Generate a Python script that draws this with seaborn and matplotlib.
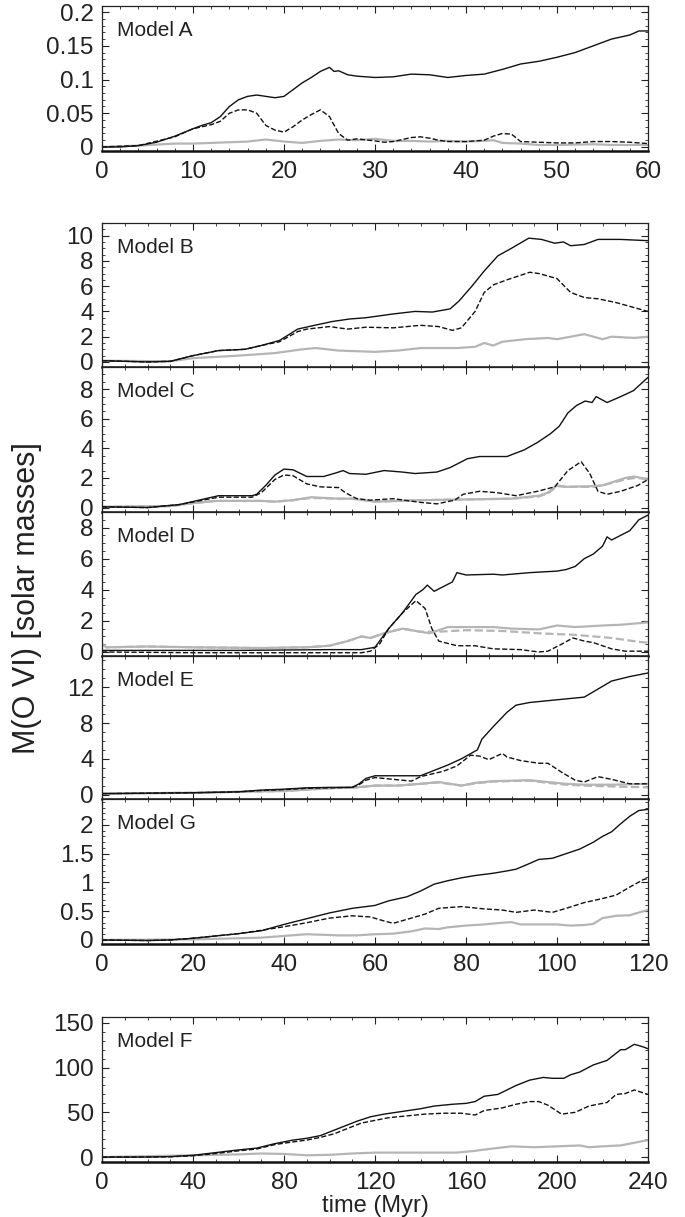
import numpy as np
import pandas as pd
import matplotlib
matplotlib.use("Agg")
import matplotlib.pyplot as plt
from matplotlib.ticker import MultipleLocator
import seaborn as sns

sns.set_style("ticks")
plt.rcParams['font.family'] = ['Liberation Sans', 'DejaVu Sans']

# ---------------- Model A (0-60 Myr) ----------------
tA_solid = [0, 2, 4, 6, 8, 10, 11, 12, 13, 14, 15, 16, 17, 18, 19, 20, 21, 22, 23, 24, 25, 25.5, 26, 27, 28, 30, 32, 34, 36, 38, 40, 42, 44, 46, 48, 50, 52, 54, 56, 58, 59, 60]
A_solid = [0, 0, 0.002, 0.007, 0.016, 0.027, 0.032, 0.036, 0.045, 0.06, 0.07, 0.075, 0.077, 0.075, 0.073, 0.075, 0.085, 0.095, 0.103, 0.112, 0.118, 0.112, 0.113, 0.107, 0.105, 0.103, 0.104, 0.108, 0.107, 0.103, 0.106, 0.108, 0.115, 0.123, 0.127, 0.133, 0.14, 0.15, 0.16, 0.166, 0.172, 0.172]
tA_dash = [0, 4, 8, 10, 12, 13, 14, 15, 16, 17, 18, 19, 20, 21, 22, 23, 24, 25, 26, 27, 28, 30, 31, 32, 34, 35, 36, 37, 38, 40, 42, 43, 44, 45, 46, 48, 50, 52, 54, 56, 58, 60]
A_dash = [0, 0.002, 0.015, 0.027, 0.033, 0.038, 0.05, 0.055, 0.055, 0.05, 0.032, 0.025, 0.022, 0.03, 0.04, 0.048, 0.055, 0.045, 0.02, 0.01, 0.012, 0.009, 0.007, 0.008, 0.014, 0.015, 0.013, 0.01, 0.008, 0.008, 0.01, 0.016, 0.02, 0.019, 0.008, 0.007, 0.006, 0.006, 0.008, 0.008, 0.007, 0.005]
tA_gray = [0, 4, 8, 10, 14, 16, 18, 20, 22, 24, 26, 28, 30, 32, 34, 36, 38, 40, 42, 43, 44, 46, 48, 50, 54, 56, 60]
A_gray = [0, 0.002, 0.005, 0.005, 0.007, 0.008, 0.011, 0.008, 0.006, 0.009, 0.011, 0.01, 0.012, 0.009, 0.009, 0.008, 0.009, 0.008, 0.009, 0.01, 0.006, 0.005, 0.003, 0.003, 0.004, 0.003, 0.003]

# ---------------- Model B (0-120 Myr) ----------------
tB_solid = [0, 5, 10, 15, 20, 25.6, 31.4, 35, 39, 43, 46.7, 50.6, 54.4, 58, 64, 68.8, 72.6, 76.5, 78.4, 81.3, 84, 87, 90, 93.8, 96.6, 99.5, 101.4, 103, 106, 109, 114, 120]
B_solid = [0.1, 0.05, 0.0, 0.05, 0.5, 0.9, 1.0, 1.3, 1.7, 2.6, 2.9, 3.2, 3.4, 3.5, 3.8, 4.0, 3.95, 4.2, 4.8, 6.0, 7.2, 8.4, 9.0, 9.8, 9.7, 9.4, 9.5, 9.2, 9.3, 9.7, 9.7, 9.6]
tB_dash = [0, 5, 10, 15, 20, 25.6, 31.4, 35, 39, 43, 45, 50, 54, 58, 64, 70, 74, 77, 79, 82, 84, 86, 89, 94, 96, 100, 103, 106, 109, 113, 117, 120]
B_dash = [0.1, 0.05, 0.0, 0.05, 0.5, 0.9, 1.0, 1.3, 1.6, 2.4, 2.6, 2.8, 2.6, 2.75, 2.7, 2.9, 2.8, 2.5, 2.7, 4.0, 5.5, 6.1, 6.5, 7.1, 7.0, 6.6, 5.5, 5.1, 5.0, 4.7, 4.3, 4.0]
tB_gray = [0, 15, 20, 30, 38, 44, 47, 52, 60, 65, 70, 78, 82, 84, 86, 88, 93, 98, 100, 103, 106, 110, 112, 117, 120]
B_gray = [0.1, 0.05, 0.3, 0.5, 0.7, 1.0, 1.1, 0.9, 0.8, 0.9, 1.1, 1.1, 1.2, 1.5, 1.3, 1.6, 1.8, 1.9, 1.8, 2.0, 2.2, 1.8, 2.0, 1.9, 2.0]

# ---------------- Model C ----------------
tC_solid = [0, 10, 17, 25.6, 33, 34, 36, 38, 40, 42, 45, 48.7, 51.5, 53, 54.4, 58, 62, 66, 68.8, 73.6, 76.5, 80.3, 83, 89, 92.8, 95.7, 98.6, 100.5, 102.4, 104.3, 106.2, 107.7, 108.6, 111, 114, 116.8, 120]
C_solid = [0.05, 0.0, 0.2, 0.8, 0.8, 0.9, 1.5, 2.2, 2.6, 2.55, 2.1, 2.1, 2.35, 2.5, 2.3, 2.25, 2.5, 2.4, 2.3, 2.4, 2.7, 3.3, 3.45, 3.45, 3.9, 4.4, 5.0, 5.5, 6.4, 6.9, 7.2, 7.1, 7.5, 7.1, 7.5, 7.9, 8.8]
tC_dash = [0, 10, 17, 25.6, 33, 35, 38, 40, 42, 45, 48, 52, 53.5, 56, 59, 64, 70, 73.6, 77.5, 79.4, 83, 87, 91, 95.7, 99.5, 102.4, 105.3, 107.2, 109, 111, 114, 117.8, 120]
C_dash = [0.05, 0.0, 0.2, 0.7, 0.7, 1.0, 1.9, 2.2, 2.15, 1.6, 1.4, 1.35, 1.0, 0.6, 0.5, 0.6, 0.35, 0.25, 0.5, 0.9, 1.1, 1.0, 0.8, 1.1, 1.4, 2.5, 3.1, 2.3, 1.1, 0.9, 1.1, 1.5, 1.9]
tC_gray = [0, 15, 20, 25, 35, 38, 42, 46, 52, 55, 60, 65, 70, 80, 90, 96, 98, 100, 102, 108, 110, 115, 117, 120]
C_gray = [0.05, 0.1, 0.3, 0.45, 0.45, 0.4, 0.5, 0.7, 0.6, 0.6, 0.4, 0.45, 0.5, 0.55, 0.6, 0.8, 1.0, 1.5, 1.4, 1.45, 1.5, 2.0, 2.1, 1.9]
C_gray_dash = [0.05, 0.1, 0.3, 0.45, 0.45, 0.4, 0.5, 0.65, 0.6, 0.6, 0.4, 0.45, 0.5, 0.55, 0.6, 0.75, 0.95, 1.45, 1.4, 1.4, 1.5, 1.9, 2.0, 1.95]

# ---------------- Model D ----------------
tD_solid = [0, 10, 30, 50, 57, 60, 63, 66, 69, 70.5, 71.5, 73, 75, 77, 78, 80, 86, 88, 94, 100, 102, 104, 106, 108, 110, 111, 112, 116, 118, 120]
D_solid = [0.1, 0.1, 0.1, 0.15, 0.15, 0.3, 1.5, 2.5, 3.7, 4.0, 4.3, 3.9, 4.2, 4.5, 5.1, 4.95, 5.0, 4.95, 5.1, 5.2, 5.3, 5.5, 6.0, 6.3, 6.8, 7.4, 7.2, 7.8, 8.5, 8.8]
tD_dash = [0, 20, 40, 57, 59, 61, 63, 66, 69, 71, 72.5, 74, 78, 82, 86, 92, 96, 98, 101, 103.5, 106, 108, 112, 115, 120]
D_dash = [0.0, -0.05, -0.05, -0.05, 0.05, 0.5, 1.5, 2.5, 3.3, 2.8, 1.5, 0.7, 0.4, 0.4, 0.2, 0.15, 0.0, 0.05, 0.5, 0.9, 0.7, 0.6, 0.2, 0.05, 0.05]
tD_gray = [0, 1, 10, 20, 35, 45, 50, 54, 57, 59, 62, 66, 70, 72, 76, 82, 86, 90, 96, 100, 104, 110, 114, 120]
D_gray = [0.5, 0.3, 0.35, 0.3, 0.25, 0.3, 0.4, 0.7, 1.0, 0.9, 1.2, 1.5, 1.3, 1.2, 1.6, 1.6, 1.6, 1.5, 1.45, 1.7, 1.6, 1.7, 1.75, 1.9]
tD_gray_dash = [0, 1, 10, 20, 35, 45, 50, 54, 57, 59, 62, 66, 70, 74, 80, 88, 96, 104, 112, 118, 120]
D_gray_dash = [0.5, 0.3, 0.35, 0.3, 0.25, 0.3, 0.4, 0.7, 1.0, 0.9, 1.2, 1.5, 1.3, 1.3, 1.4, 1.35, 1.2, 1.1, 0.9, 0.65, 0.6]

# ---------------- Model E ----------------
tE_solid = [0, 20, 30, 35, 40, 45, 50, 55, 56.5, 58, 60, 64, 70, 72, 76, 79, 82.5, 83.5, 86, 89, 91, 94, 98, 104, 106, 109, 112, 116, 120]
E_solid = [0.1, 0.2, 0.3, 0.5, 0.6, 0.75, 0.8, 0.8, 1.2, 1.8, 2.1, 2.1, 2.1, 2.5, 3.3, 4.0, 5.0, 6.2, 7.6, 9.2, 10.0, 10.3, 10.5, 10.8, 10.9, 11.8, 12.7, 13.2, 13.6]
tE_dash = [0, 20, 30, 35, 40, 45, 50, 55, 56.5, 58, 60, 64, 68, 70, 75, 78, 81, 83, 85, 88, 89, 92, 96, 98, 101, 104, 106, 109, 112, 116, 120]
E_dash = [0.1, 0.2, 0.3, 0.45, 0.55, 0.7, 0.75, 0.8, 1.1, 1.6, 1.9, 1.7, 1.5, 2.0, 2.6, 3.2, 4.4, 4.3, 3.9, 4.6, 4.2, 3.8, 3.5, 3.5, 2.5, 1.6, 1.4, 2.0, 1.7, 1.2, 1.2]
tE_gray = [0, 20, 40, 50, 56, 60, 65, 70, 74, 79, 82, 86, 94, 98, 102, 106, 112, 120]
E_gray = [0.1, 0.2, 0.4, 0.7, 0.8, 1.0, 1.0, 1.2, 1.4, 1.0, 1.3, 1.5, 1.6, 1.4, 1.2, 1.1, 1.1, 1.2]
E_gray_dash = [0.1, 0.2, 0.4, 0.7, 0.8, 1.0, 1.0, 1.2, 1.35, 1.0, 1.25, 1.45, 1.55, 1.3, 1.1, 1.0, 0.9, 0.8]

# ---------------- Model G ----------------
tG_solid = [0, 10, 15, 20, 25, 30, 35, 40, 45, 50, 55, 60, 63, 67, 70, 73, 76, 79, 82, 86, 89, 91, 94, 96, 99, 102, 105, 108, 110, 112, 114, 116, 118, 120]
G_solid = [0, -0.01, 0, 0.03, 0.07, 0.11, 0.16, 0.27, 0.37, 0.47, 0.55, 0.6, 0.68, 0.75, 0.85, 0.97, 1.03, 1.08, 1.12, 1.16, 1.2, 1.23, 1.33, 1.4, 1.42, 1.5, 1.58, 1.7, 1.8, 1.88, 2.02, 2.15, 2.25, 2.27]
tG_dash = [0, 10, 15, 20, 25, 30, 36, 40, 45, 50, 55, 59, 62, 64, 68, 71, 74, 79, 84, 88, 91, 95, 99, 102, 106, 110, 113, 116, 119, 120]
G_dash = [0, -0.01, 0, 0.03, 0.07, 0.11, 0.18, 0.23, 0.3, 0.38, 0.42, 0.4, 0.33, 0.29, 0.38, 0.45, 0.55, 0.58, 0.54, 0.52, 0.48, 0.52, 0.48, 0.55, 0.65, 0.72, 0.78, 0.92, 1.05, 1.07]
tG_gray = [0, 20, 35, 40, 45, 52, 56, 60, 64, 68, 71, 74, 76, 80, 84, 88, 90, 92, 96, 100, 103, 106, 108, 110, 113, 116, 119, 120]
G_gray = [0, 0.01, 0.04, 0.07, 0.1, 0.08, 0.08, 0.1, 0.11, 0.15, 0.2, 0.19, 0.22, 0.25, 0.27, 0.3, 0.31, 0.27, 0.27, 0.27, 0.25, 0.26, 0.28, 0.38, 0.42, 0.43, 0.5, 0.52]

# ---------------- Model F (0-240 Myr) ----------------
tF_solid = [0, 20, 30, 40, 50, 60, 68, 76, 84, 90, 96, 100, 106, 112, 118, 124, 132, 140, 146, 154, 160, 164, 168, 174, 178, 182, 188, 194, 198, 203, 206, 210, 216, 222, 228, 230, 234, 238, 240]
F_solid = [0, 0, 0.5, 2, 5, 8, 10, 15, 19, 21, 24, 28, 34, 40, 45, 48, 51, 54, 57, 59, 60, 62, 68, 70, 75, 80, 86, 89, 88, 88, 92, 95, 103, 108, 120, 120, 126, 123, 121]
tF_dash = [0, 20, 30, 40, 50, 60, 68, 76, 84, 90, 96, 102, 108, 114, 120, 126, 134, 142, 150, 158, 164, 168, 176, 182, 188, 192, 196, 202, 208, 214, 222, 226, 230, 234, 240]
F_dash = [0, 0, 0.3, 1.5, 4, 7, 9, 14, 17, 19, 22, 26, 32, 38, 41, 44, 46, 48, 49, 49, 47, 52, 55, 59, 62, 62, 58, 48, 50, 57, 61, 70, 71, 75, 70]
tF_gray = [0, 20, 40, 60, 70, 80, 90, 100, 110, 120, 140, 150, 156, 164, 170, 180, 190, 200, 210, 214, 220, 228, 234, 240]
F_gray = [0, 1, 2, 3, 4, 3.5, 2, 2.5, 4, 5, 5, 5, 5, 7, 9, 12, 11, 12, 13, 11, 12, 13, 16, 19]

BLACK = '#111111'
GRAY = '#b5b5b5'

panels = [
    dict(name='Model A', xlim=(0, 60), ylim=(-0.006, 0.209), xmaj=10, xmin=2, ymaj=0.05, ymin=0.01,
         yticks=[0, 0.05, 0.1, 0.15, 0.2], ylabels=['0', '0.05', '0.1', '0.15', '0.2'], xlab=True,
         series=[(tA_gray, A_gray, 'gray', '-'), (tA_dash, A_dash, 'k', '--'), (tA_solid, A_solid, 'k', '-')],
         top=6, bottom=151),
    dict(name='Model B', xlim=(0, 120), ylim=(-0.4, 11.0), xmaj=20, xmin=5, ymaj=2, ymin=0.5,
         yticks=[0, 2, 4, 6, 8, 10], ylabels=None, xlab=False,
         series=[(tB_gray, B_gray, 'gray', '-'), (tB_dash, B_dash, 'k', '--'), (tB_solid, B_solid, 'k', '-')],
         top=223, bottom=367),
    dict(name='Model C', xlim=(0, 120), ylim=(-0.3, 9.5), xmaj=20, xmin=5, ymaj=2, ymin=0.5,
         yticks=[0, 2, 4, 6, 8], ylabels=None, xlab=False,
         series=[(tC_gray, C_gray_dash, 'gray', '--'), (tC_gray, C_gray, 'gray', '-'), (tC_dash, C_dash, 'k', '--'), (tC_solid, C_solid, 'k', '-')],
         top=367, bottom=512),
    dict(name='Model D', xlim=(0, 120), ylim=(-0.26, 9.0), xmaj=20, xmin=5, ymaj=2, ymin=0.5,
         yticks=[0, 2, 4, 6, 8], ylabels=None, xlab=False,
         series=[(tD_gray_dash, D_gray_dash, 'gray', '--'), (tD_gray, D_gray, 'gray', '-'), (tD_dash, D_dash, 'k', '--'), (tD_solid, D_solid, 'k', '-')],
         top=512, bottom=656),
    dict(name='Model E', xlim=(0, 120), ylim=(-0.5, 15.5), xmaj=20, xmin=5, ymaj=4, ymin=1,
         yticks=[0, 4, 8, 12], ylabels=None, xlab=False,
         series=[(tE_gray, E_gray_dash, 'gray', '--'), (tE_gray, E_gray, 'gray', '-'), (tE_dash, E_dash, 'k', '--'), (tE_solid, E_solid, 'k', '-')],
         top=656, bottom=799),
    dict(name='Model G', xlim=(0, 120), ylim=(-0.07, 2.45), xmaj=20, xmin=5, ymaj=0.5, ymin=0.1,
         yticks=[0, 0.5, 1, 1.5, 2], ylabels=['0', '0.5', '1', '1.5', '2'], xlab=True,
         series=[(tG_gray, G_gray, 'gray', '-'), (tG_dash, G_dash, 'k', '--'), (tG_solid, G_solid, 'k', '-')],
         top=799, bottom=944),
    dict(name='Model F', xlim=(0, 240), ylim=(-5.5, 156.5), xmaj=40, xmin=10, ymaj=50, ymin=10,
         yticks=[0, 50, 100, 150], ylabels=None, xlab=True,
         series=[(tF_gray, F_gray, 'gray', '-'), (tF_dash, F_dash, 'k', '--'), (tF_solid, F_solid, 'k', '-')],
         top=1017, bottom=1162),
]

W, H = 685, 1217
fig = plt.figure(figsize=(W / 100, H / 100), dpi=100)
left_px, right_px = 102, 648
TICK_FS = 17.5

for p in panels:
    ax = fig.add_axes([left_px / W, 1 - p['bottom'] / H, (right_px - left_px) / W, (p['bottom'] - p['top']) / H])
    for t, v, c, ls in p['series']:
        df = pd.DataFrame({'t': t, 'v': v})
        color = BLACK if c == 'k' else GRAY
        lw = 1.0 if c == 'k' else 1.6
        line_kw = dict(dashes=(4, 2.5)) if ls == '--' else {}
        sns.lineplot(data=df, x='t', y='v', ax=ax, color=color, lw=lw, linestyle=ls,
                     estimator=None, sort=False, **line_kw)
    ax.set_xlim(*p['xlim'])
    ax.set_ylim(*p['ylim'])
    ax.xaxis.set_major_locator(MultipleLocator(p['xmaj']))
    ax.xaxis.set_minor_locator(MultipleLocator(p['xmin']))
    ax.set_yticks(p['yticks'])
    if p['ylabels'] is not None:
        ax.set_yticklabels(p['ylabels'])
    ax.yaxis.set_minor_locator(MultipleLocator(p['ymin']))
    ax.tick_params(which='both', direction='in', top=True, right=True, labelsize=TICK_FS, color='#222222',
                   labelcolor='#222222')
    ax.tick_params(which='major', length=5, width=0.8)
    ax.tick_params(axis='y', which='major', pad=6)
    ax.tick_params(axis='x', which='major', pad=7)
    ax.tick_params(which='minor', length=2.5, width=0.6)
    if not p['xlab']:
        ax.tick_params(axis='x', labelbottom=False)
    ax.set_xlabel('')
    ax.set_ylabel('')
    for s in ['left', 'right', 'top']:
        ax.spines[s].set_linewidth(0.9)
        ax.spines[s].set_color('#222222')
    ax.spines['bottom'].set_linewidth(1.8)
    ax.spines['bottom'].set_color('#111111')
    ax.text(0.028, 0.83, p['name'], transform=ax.transAxes, ha='left', va='center',
            fontsize=15, color='#222222')
    if p['name'] == 'Model F':
        ax.set_xlabel('time (Myr)', fontsize=17, labelpad=1, color='#222222')

fig.text(27 / W, 1 - 598 / H, 'M(O VI) [solar masses]', rotation=90, ha='center', va='center',
         fontsize=22, color='#222222')

fig.savefig('out.png', dpi=100)
